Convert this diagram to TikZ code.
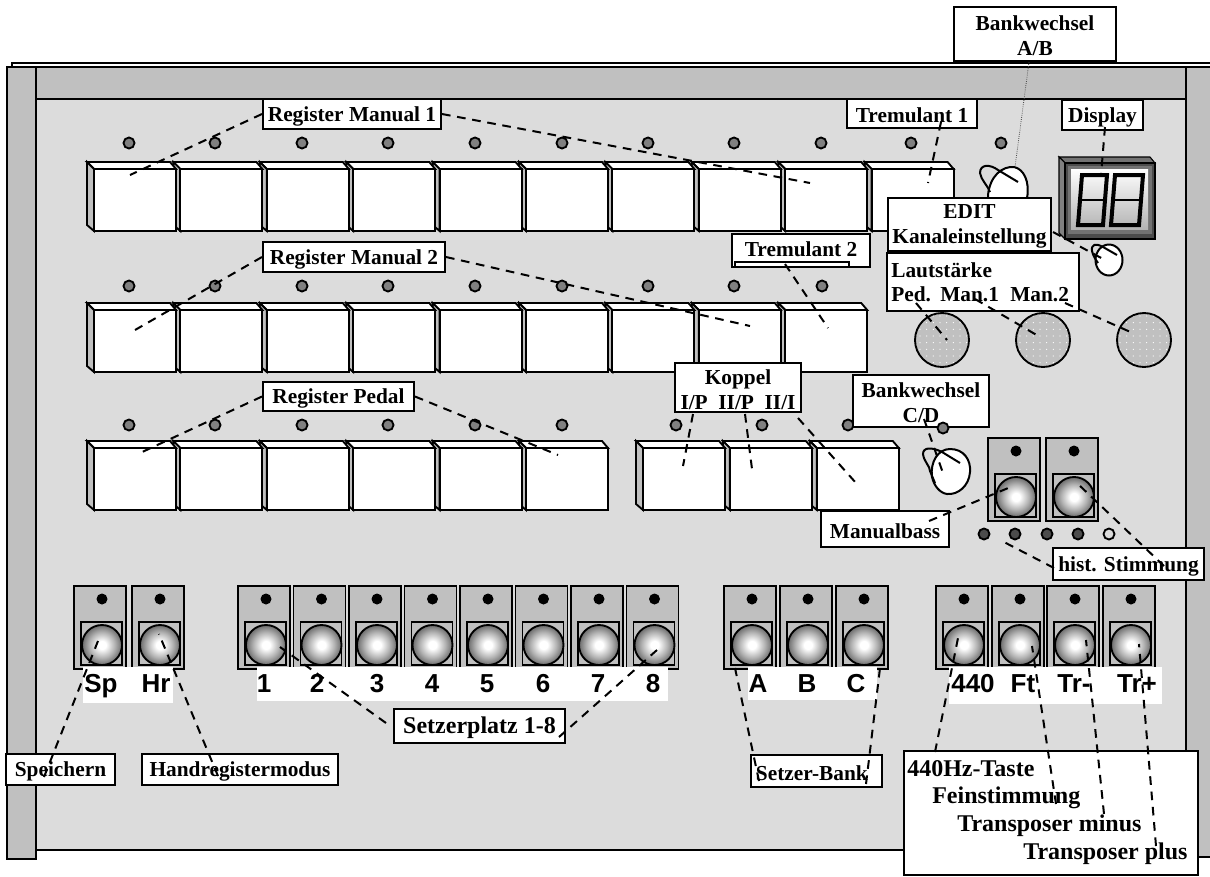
\documentclass[tikz,border=0pt]{standalone}
\usepackage{fontspec}
\setmainfont{Liberation Serif}
\newfontfamily\btnfont{Liberation Sans}
\usetikzlibrary{calc,fit,patterns.meta}
\definecolor{panel}{HTML}{DCDCDC}
\definecolor{strip}{HTML}{C0C0C0}
\definecolor{ledgray}{HTML}{808080}
\pgfdeclareradialshading{knobshade}{\pgfpoint{0bp}{0bp}}{color(0bp)=(white); color(5bp)=(white); color(16bp)=(black!30); color(25bp)=(black!58); color(50bp)=(black!58)}
\tikzset{
  line/.style={draw=black,line width=1.4pt},
  labelbox/.style={draw=black,line width=1.5pt,fill=white,inner sep=0pt},
  labeltext/.style={inner sep=0pt,align=center,yshift=-1.5pt,font=\fontsize{16}{18.5}\selectfont\bfseries},
  boxtext/.style={label={[labeltext]center:{#1}}},
  bigboxtext/.style={label={[labeltext,font=\fontsize{18}{21}\selectfont\bfseries]center:{#1}}},
  bigtext/.style={anchor=base west,inner sep=0pt,font=\fontsize{18}{21}\selectfont\bfseries},
  lauttext/.style={anchor=base west,inner sep=0pt,font=\fontsize{16}{18.5}\selectfont\bfseries},
  btnlabel/.style={inner sep=0pt,anchor=base,font=\btnfont\fontsize{19.5}{22}\selectfont\bfseries},
  whitestrip/.style={fill=white,inner sep=0pt},
  leader/.style={draw=black,line width=1.5pt,dash pattern=on 6.5pt off 5pt},
  regkey/.pic={
    \draw[line,fill=white] (0,0) -- (-7,-7) -- (76,-7) -- (82,0) -- cycle;
    \draw[line,fill=strip] (0,0) -- (-7,-7) -- (-7,56) -- (0,62) -- cycle;
    \draw[line,fill=white] (0,0) rectangle (82,62);
  },
  btnbox/.pic={
    \draw[line,fill=strip] (0,0) rectangle (52,83);
    \fill[black] (28,13) circle [radius=5.5];
    \draw[line,fill=strip] (7,36) rectangle (48,79);
    \shadedraw[line width=1.4pt,shading=knobshade] (28,59) circle [radius=20];
  },
  greatknob/.pic={
    \draw[line,fill=strip] (0,0) circle [radius=27];
    \fill[pattern={Dots[distance=5pt,radius=0.45pt]},pattern color=white] (0,0) circle [radius=26];
  }
}
\begin{document}
\begin{tikzpicture}[x=0.75pt,y=-0.75pt]
    \useasboundingbox (0,0) rectangle (1210,876);

    \draw[line] (12,67) -- (12,63) -- (1210,63);
    \draw[line,fill=panel] (36,99) rectangle (1186,850);
    \draw[line,fill=strip] (36,67) rectangle (1186,99);
    \draw[line,fill=strip] (7,67) rectangle (36,859);
    \fill[strip] (1186,67) rectangle (1210,857);
    \draw[line] (1210,67) -- (1186,67) -- (1186,857) -- (1210,857);

    \foreach \k in {9,...,0}
      \pic at ({94+86.4*\k},169) {regkey};
    \foreach \k in {8,...,0}
      \pic at ({94+86.4*\k},310) {regkey};
    \foreach \k in {5,...,0}
      \pic at ({94+86.4*\k},448) {regkey};
    \foreach \k in {2,1,0}
      \pic at ({643+86.9*\k},448) {regkey};

    \foreach \x in {129,215,302,388,475,562,648,734,821,911,1001}
      \draw[line,fill=ledgray] (\x,143) circle [radius=5.5];
    \foreach \x in {129,215,302,388,475,562,648,734,822}
      \draw[line,fill=ledgray] (\x,286) circle [radius=5.5];
    \foreach \x in {129,215,302,388,475,562,676,762,848}
      \draw[line,fill=ledgray] (\x,425) circle [radius=5.5];
    \foreach \x in {984,1015,1047,1078}
      \draw[line,fill=black!70] (\x,534) circle [radius=5.5];
    \draw[line,fill=panel] (1109,534) circle [radius=5.5];

    \draw[line width=1.5pt,fill=white] (988,195) .. controls (990,176) and (1002,166) .. (1014,167)
      .. controls (1024,169) and (1030,182) .. (1027,198) -- (988,198) -- cycle;
    \draw[line width=1.5pt] (1018,182) -- (998,170) .. controls (990,164) and (980,164) .. (980,173)
      .. controls (981,180) and (988,186) .. (990,192);

    \draw[line width=0.8pt,fill=black!55] (1059,157) -- (1150,157) -- (1155,163) -- (1065,163) -- cycle;
    \draw[line width=0.8pt,fill=ledgray] (1059,157) -- (1065,163) -- (1065,239) -- (1059,233) -- cycle;
    \draw[line width=0.8pt,fill=black!70] (1065,163) rectangle (1155,239);
    \fill[black!55] (1068,166) rectangle (1152,234);
    \shade[top color=white,bottom color=black!30] (1071,169) rectangle (1148,229);
    \draw[line width=3pt] (1082,175) -- (1107,175) -- (1103,225) -- (1078,225) -- cycle;
    \draw[line width=3pt] (1115,175) -- (1143,175) -- (1139,225) -- (1111,225) -- cycle;
    \draw[line width=2pt] (1080,200) -- (1105,200);
    \draw[line width=2pt] (1113,200) -- (1141,200);

    \draw[line width=1.5pt,fill=white] (1109,260) ellipse [x radius=13.5,y radius=15.5];
    \draw[line width=1.5pt] (1117,255) -- (1103,247) .. controls (1096,243) and (1091,244) .. (1092,251)
      .. controls (1093,256) and (1096,260) .. (1098,263);

    \draw[line width=1.5pt,fill=white] (932,477) .. controls (930,462) and (938,449) .. (950,449)
      .. controls (964,449) and (971,460) .. (970,472) .. controls (969,486) and (958,495) .. (947,494)
      .. controls (940,493) and (934,486) .. (932,477) -- cycle;
    \draw[line width=1.5pt] (960,463) -- (942,452) .. controls (932,447) and (923,447) .. (923,454)
      .. controls (924,462) and (930,466) .. (930,471) -- (935,483);

    \pic at (942,340) {greatknob};
    \pic at (1043,340) {greatknob};
    \pic at (1144,340) {greatknob};

    \pic at (988,438) {btnbox};
    \pic at (1046,438) {btnbox};
    \foreach \x in {74,132,238,293.5,349,404.5,460,515.5,571,626.5,724,780,836,936,992,1047,1103}
      \pic at (\x,586) {btnbox};

    \node[whitestrip,fit={(83,667)(173,703)}] (stripSp) {};
    \node[whitestrip,fit={(257,667)(668,701)}] (stripSetzer) {};
    \node[whitestrip,fit={(748,667)(877,700)}] (stripBank) {};
    \node[whitestrip,fit={(949,667)(1162,704)}] (stripFt) {};
    \foreach \t/\x in {Sp/101,Hr/156,1/264,2/317,3/377,4/432,5/487,6/543,7/598,8/653,A/758,B/807,C/856,440/973,Ft/1023,Tr-/1074,Tr+/1137}
      \node[btnlabel] (btn\t) at (\x,692) {\t};

    \node[labelbox,fit={(263,99)(441,129)},boxtext={Register Manual 1}] (regManA) {};
    \node[labelbox,fit={(263,242)(445,272)},boxtext={Register Manual 2}] (regManB) {};
    \node[labelbox,fit={(263,382)(414,411)},boxtext={Register Pedal}] (regPed) {};
    \node[labelbox,fit={(847,99)(977,128)},boxtext={Tremulant 1}] (tremA) {};
    \node[labelbox,fit={(732,234)(870,267)}] (tremB) {};
    \node[labeltext] (tremBtext) at (801,247) {Tremulant 2};
    \draw[line] (735,266) -- (735,262) -- (849,262) -- (849,266);
    \node[labelbox,fit={(954,7)(1116,61)},boxtext={Bankwechsel\\A/B}] (bankAB) {};
    \node[labelbox,fit={(1062,100)(1143,130)},boxtext={Display}] (displayBox) {};
    \node[labelbox,fit={(888,198)(1051,251)},boxtext={EDIT\\Kanaleinstellung}] (editBox) {};
    \node[labelbox,fit={(887,253)(1079,311)}] (lautBox) {};
    \node[lauttext] (lautTitle) at (891,277) {Lautstärke};
    \node[lauttext] (lautPed) at (891,301) {Ped.};
    \node[lauttext] (lautManA) at (940,301) {Man.1};
    \node[lauttext] (lautManB) at (1010,301) {Man.2};
    \node[labelbox,fit={(675,363)(801,412)},boxtext={Koppel\\I/P\ \ II/P\ \ II/I}] (koppel) {};
    \node[labelbox,fit={(853,375)(989,427)},boxtext={Bankwechsel\\C/D}] (bankCD) {};
    \draw[line,fill=ledgray] (943,428) circle [radius=5.5];
    \node[labelbox,fit={(821,511)(949,547)},boxtext={Manualbass}] (manBass) {};
    \node[labelbox,fit={(1053,548)(1204,580)},boxtext={hist. Stimmung}] (histSt) {};
    \node[labelbox,fit={(6,754)(115,785)},boxtext={Speichern}] (speichern) {};
    \node[labelbox,fit={(142,754)(338,785)},boxtext={Handregistermodus}] (handReg) {};
    \node[labelbox,fit={(394,709)(565,743)},bigboxtext={Setzerplatz 1-8}] (setzPlatz) {};
    \node[labelbox,fit={(751,755)(882,787)},label={[labeltext,xshift=-3.5pt]center:{Setzer-Bank}}] (setzBank) {};
    \node[labelbox,fit={(904,751)(1198,875)}] (transBox) {};
    \node[bigtext] (transA) at (907,776) {440Hz-Taste};
    \node[bigtext] (transB) at (932,803) {Feinstimmung};
    \node[bigtext] (transC) at (957,831) {Transposer minus};
    \node[bigtext] (transD) at (1023,859) {Transposer plus};

    \coordinate (endManAa) at (130,175);
    \coordinate (endManAb) at (810,183);
    \coordinate (endTremA) at (928,183);
    \coordinate (endBankAB) at (1015,167);
    \coordinate (endDisplay) at (1101,175);
    \coordinate (endEdit) at (1105,260);
    \coordinate (endPed) at (947,340);
    \coordinate (endLautA) at (1040,337);
    \coordinate (endLautB) at (1135,334);
    \coordinate (endManBa) at (135,330);
    \coordinate (endManBb) at (750,326);
    \coordinate (endTremB) at (828,328);
    \coordinate (endPeda) at (140,453);
    \coordinate (endPedb) at (558,455);
    \coordinate (endKopA) at (683,466);
    \coordinate (endKopB) at (752,469);
    \coordinate (endKopC) at (856,483);
    \coordinate (endBankCD) at (944,476);
    \coordinate (endBass) at (1013,486);
    \coordinate (endHistA) at (1078,484);
    \coordinate (endHistB) at (1002,541);
    \coordinate (endSp) at (98,641);
    \coordinate (endHr) at (159,634);
    \coordinate (endSetzA) at (280,647);
    \coordinate (endSetzB) at (657,650);
    \coordinate (endBankA) at (735,668);
    \coordinate (endBankC) at (880,668);
    \coordinate (endHz) at (958,638);
    \coordinate (endFt) at (1032,646);
    \coordinate (endTrM) at (1086,640);
    \coordinate (endTrP) at (1139,644);

    \draw[leader] (regManA.west) -- (endManAa);
    \draw[leader] (regManA.east) -- (endManAb);
    \draw[leader] ($(tremA.south)+(29,-7)$) -- (endTremA);
    \draw[line width=0.6pt,densely dotted,black!70] ($(bankAB.south)+(-6,0)$) -- (endBankAB);
    \draw[leader] ($(displayBox.south)+(2.5,-4)$) -- (endDisplay);
    \draw[leader] ($(editBox.east)+(1,7.5)$) -- (endEdit);
    \draw[leader] ($(lautBox.south)+(-67,-9)$) -- (endPed);
    \draw[leader] ($(lautBox.south)+(-8,-13)$) -- (endLautA);
    \draw[leader] ($(lautBox.south)+(82,-9)$) -- (endLautB);
    \draw[leader] (regManB.west) -- (endManBa);
    \draw[leader] (regManB.east) -- (endManBb);
    \draw[leader] ($(tremB.south)+(-16,-4)$) -- (endTremB);
    \draw[leader] (regPed.west) -- (endPeda);
    \draw[leader] (regPed.east) -- (endPedb);
    \draw[leader] ($(koppel.south)+(-45,1)$) -- (endKopA);
    \draw[leader] ($(koppel.south)+(7,1)$) -- (endKopB);
    \draw[leader] ($(koppel.south)+(60,5)$) -- (endKopC);
    \draw[leader] ($(bankCD.south)+(3,-9)$) -- (endBankCD);
    \draw[leader] ($(manBass.north)+(44,11)$) -- (endBass);
    \draw[leader] ($(histSt.north)+(35.5,19)$) -- (endHistA);
    \draw[leader] ($(histSt.west)+(2,4)$) -- (endHistB);
    \draw[leader] ($(speichern.west)+(39,7.5)$) -- (endSp);
    \draw[leader] ($(handReg.north)+(-22,23)$) -- (endHr);
    \draw[leader] ($(setzPlatz.west)+(-7,-3)$) -- (endSetzA);
    \draw[leader] ($(setzPlatz.east)+(-7,11)$) -- (endSetzB);
    \draw[leader] ($(setzBank.south)+(-57.5,-7)$) -- (endBankA);
    \draw[leader] ($(setzBank.south)+(49.5,-4)$) -- (endBankC);
    \draw[leader] ($(transBox.north)+(-116,2)$) -- (endHz);
    \draw[leader] ($(transBox.north)+(5,54)$) -- (endFt);
    \draw[leader] ($(transBox.north)+(53,64)$) -- (endTrM);
    \draw[leader] ($(transBox.north)+(105,96)$) -- (endTrP);
  \end{tikzpicture}
\end{document}
